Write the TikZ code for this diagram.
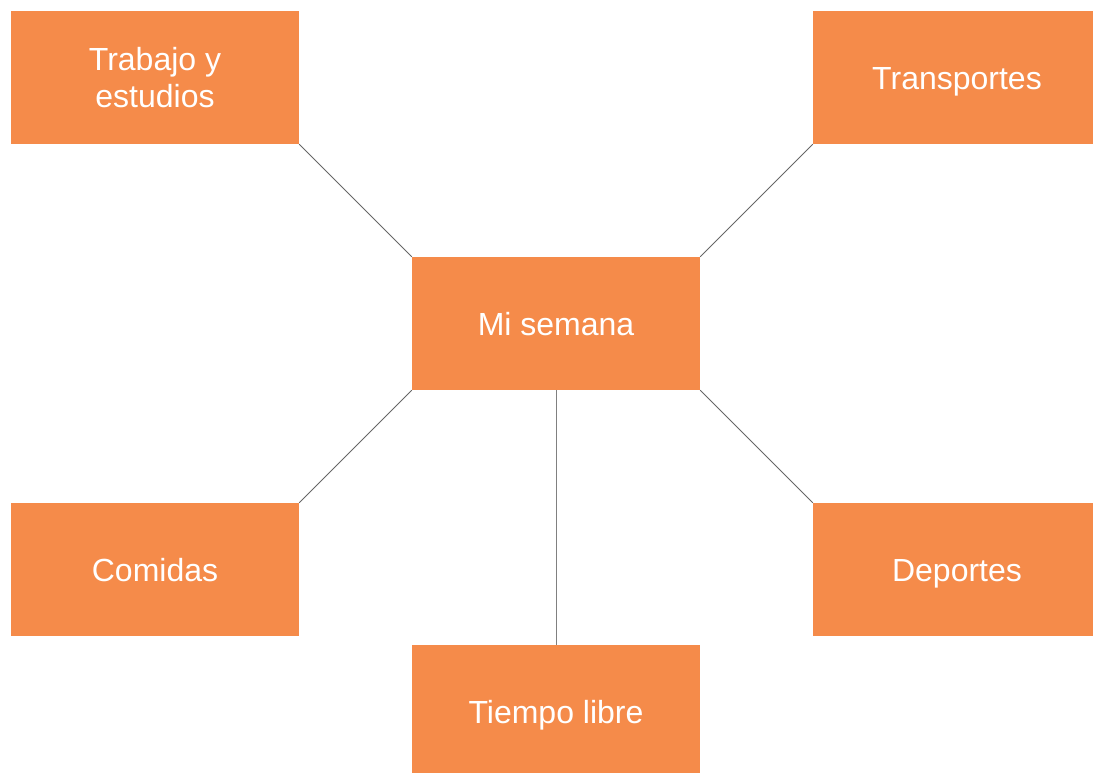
\documentclass[tikz,border=0pt]{standalone}
\usepackage{fontspec}
\setmainfont{Liberation Sans}
\definecolor{boxorange}{HTML}{F58B4A}
\definecolor{linegray}{HTML}{666666}
\begin{document}
\begin{tikzpicture}[x=1pt,y=1pt,
  topic/.style={fill=boxorange, draw=none, minimum width=288pt, minimum height=133pt,
    inner sep=0pt, text=white, align=center, font=\fontsize{32}{37}\selectfont},
  oneline/.style={topic, text height=23.2pt, text depth=0pt},
  link/.style={draw=linegray, line width=1pt}]
\useasboundingbox (0,0) rectangle (1093,-772);
\clip (0,0) rectangle (1093,-772);
\node[oneline] (center) at (556,-323.5) {Mi semana};
\node[topic] (trabajo) at (155,-77.5) {Trabajo y\\estudios};
\node[oneline] (transp) at (957,-77.5) {Transportes};
\node[oneline] (comidas) at (155,-569.5) {Comidas};
\node[oneline] (deportes) at (957,-569.5) {Deportes};
\node[oneline] (tiempo) at (556,-711.5) {Tiempo libre};
\draw[link] (trabajo.south east) -- (center.north west);
\draw[link] (transp.south west) -- (center.north east);
\draw[link] (comidas.north east) -- (center.south west);
\draw[link] (deportes.north west) -- (center.south east);
\draw[link, draw=gray] (center.south) -- (tiempo.north);
\end{tikzpicture}
\end{document}
